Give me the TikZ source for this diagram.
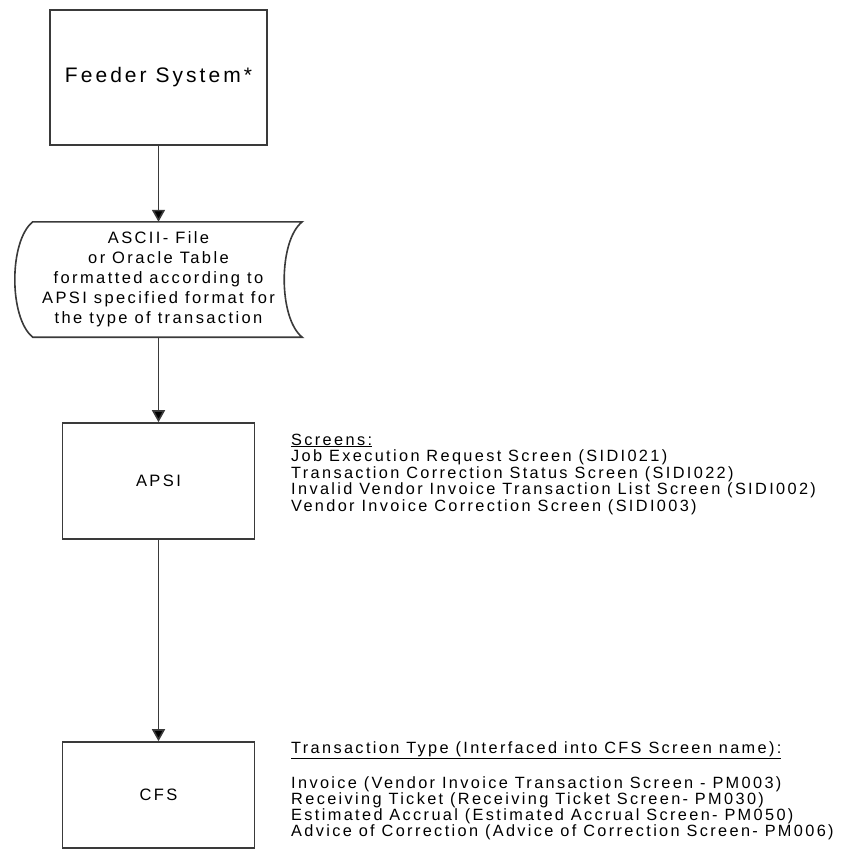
\documentclass[tikz,border=0pt]{standalone}
\usepackage{fontspec}
\setmainfont{Liberation Sans}[LetterSpace=14.5]
\usetikzlibrary{arrows.meta}
\definecolor{linegray}{HTML}{3A3A3A}
\tikzset{
  procbox/.style={draw=linegray, line width=1.6pt, rectangle, fill=white,
    align=center, inner sep=0pt},
  flowarrow/.style={draw=linegray, line width=1.6pt,
    -{Triangle[length=12pt,width=13pt,fill=black]}},
  bodyfont/.style={font=\fontsize{16.5}{16.5}\selectfont},
  notes/.style={font=\fontsize{16.3}{16.5}\selectfont, align=left, anchor=base west, inner sep=0pt},
}
\begin{document}
\begin{tikzpicture}[x=1pt,y=-1pt]
\useasboundingbox (0,0) rectangle (849,859);

% process boxes
\node[procbox, minimum width=217pt, minimum height=135pt,
      font=\fontsize{21}{24}\selectfont] (feeder) at (158.5,77.5) {\raisebox{3pt}{Feeder System*}};
\node[procbox, bodyfont, minimum width=192pt, minimum height=116pt] (apsi) at (158.5,481) {APSI};
\node[procbox, bodyfont, minimum width=192pt, minimum height=106pt] (cfs) at (158.5,795) {CFS};

% stored-data (tape) symbol
\node[align=center, inner sep=0pt, minimum width=287pt, minimum height=115pt,
      font=\fontsize{16.5}{20}\selectfont] (tape) at (158.5,279.5)
  {ASCII- File\\or Oracle Table\\formatted according to\\APSI specified format for\\the type of transaction};
\draw[draw=linegray, line width=1.6pt]
  ([xshift=18pt]tape.north west) -- (tape.north east)
  .. controls ([xshift=-24pt,yshift=-19pt]tape.north east) and ([xshift=-24pt,yshift=19pt]tape.south east) .. (tape.south east)
  -- ([xshift=18pt]tape.south west)
  .. controls ([xshift=-6pt,yshift=19pt]tape.south west) and ([xshift=-6pt,yshift=-19pt]tape.north west) .. ([xshift=18pt]tape.north west) -- cycle;

% flow connectors
\draw[flowarrow] (feeder.south) -- (tape.north);
\draw[flowarrow] (tape.south) -- (apsi.north);
\draw[flowarrow] (apsi.south) -- (cfs.north);

% side notes (anchored on the baseline of their last line)
\node[notes] (screens) at (291,511)
  {\underline{Screens:}\\
   Job Execution Request Screen (SIDI021)\\
   Transaction Correction Status Screen (SIDI022)\\
   Invalid Vendor Invoice Transaction List Screen (SIDI002)\\
   Vendor Invoice Correction Screen (SIDI003)};
\node[notes, font=\fontsize{16.3}{16}\selectfont] (types) at (291,836)
  {\underline{Transaction Type (Interfaced into CFS Screen name):}\\[16pt]
   Invoice (Vendor Invoice Transaction Screen - PM003)\\
   Receiving Ticket (Receiving Ticket Screen- PM030)\\
   Estimated Accrual (Estimated Accrual Screen- PM050)\\
   Advice of Correction (Advice of Correction Screen- PM006)};
\end{tikzpicture}
\end{document}
